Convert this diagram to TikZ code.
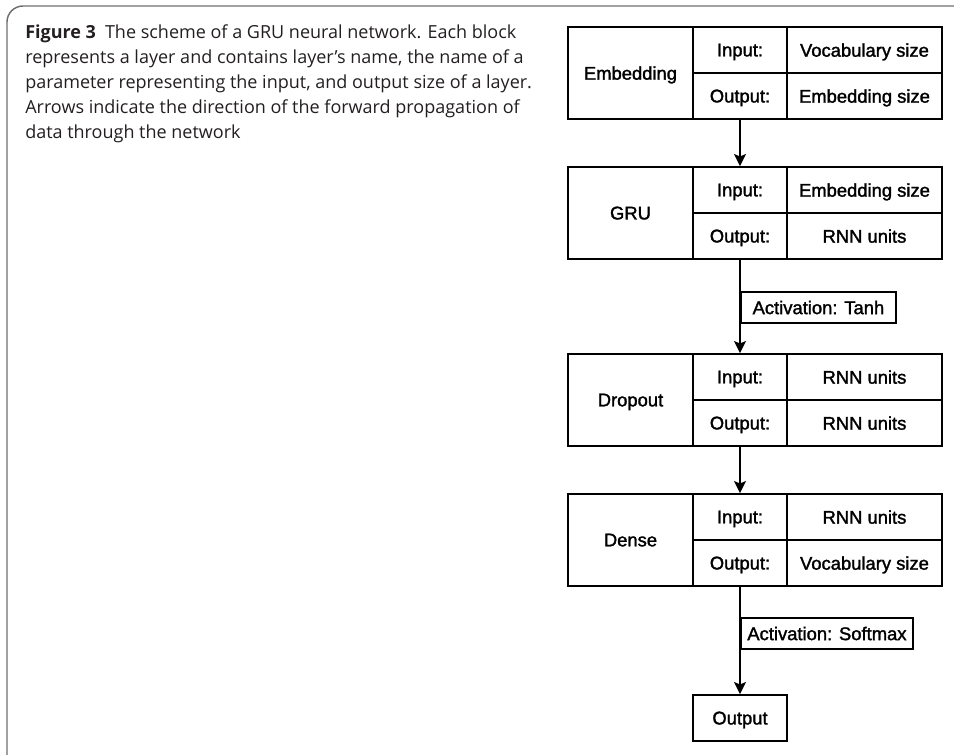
\documentclass[tikz,border=0pt]{standalone}
\usepackage{fontspec}
\setmainfont{Open Sans}
\newfontfamily\dfont[FakeBold=1.6]{Liberation Sans}
\usetikzlibrary{arrows.meta}
\definecolor{framegray}{HTML}{6D6E71}
\definecolor{captext}{HTML}{231F20}
\tikzset{
  cell/.style={draw=black, line width=1.4pt, inner sep=0pt, text depth=0pt, font=\dfont\fontsize{13.8pt}{15pt}\selectfont, text=black},
  namecell/.style={cell, minimum width=93.75pt, minimum height=69pt},
  keycell/.style={cell, minimum width=70.5pt, minimum height=34.5pt},
  valcell/.style={cell, minimum width=116.25pt, minimum height=34.5pt},
  actlabel/.style={cell, anchor=north west, minimum height=23.25pt},
  flow/.style={draw=black, line width=1.4pt, -{Stealth[length=9pt,width=9pt,inset=1.8pt]}},
  capline/.style={anchor=base west, inner sep=0pt, text=captext, font=\fontsize{13.5pt}{15pt}\selectfont}
}
\begin{document}
\begin{tikzpicture}[x=0.75pt,y=-0.75pt]
\useasboundingbox (0,0) rectangle (954,754);
% frame
\draw[framegray, line width=1.1pt, rounded corners=12pt] (7,770) -- (7,6) -- (970,6);
% caption
\node[capline] (c1) at (25,38) {\textbf{Figure 3}\hspace{0.5em}The scheme of a GRU neural network. Each block};
\node[capline] (c2) at (25,63) {represents a layer and contains layer’s name, the name of a};
\node[capline] (c3) at (25,88) {parameter representing the input, and output size of a layer.};
\node[capline] (c4) at (25,113) {Arrows indicate the direction of the forward propagation of};
\node[capline] (c5) at (25,138) {data through the network};
% Embedding
\node[namecell] (embN) at (630.5,73) {Embedding};
\node[keycell] (embI) at (740,50) {Input:};
\node[keycell] (embO) at (740,96) {Output:};
\node[valcell] (embIV) at (864.5,50) {Vocabulary size};
\node[valcell] (embOV) at (864.5,96) {Embedding size};
% GRU
\node[namecell] (gruN) at (630.5,213) {GRU};
\node[keycell] (gruI) at (740,190) {Input:};
\node[keycell] (gruO) at (740,236) {Output:};
\node[valcell] (gruIV) at (864.5,190) {Embedding size};
\node[valcell] (gruOV) at (864.5,236) {RNN units};
% Dropout
\node[namecell] (drpN) at (630.5,400) {Dropout};
\node[keycell] (drpI) at (740,377) {Input:};
\node[keycell] (drpO) at (740,423) {Output:};
\node[valcell] (drpIV) at (864.5,377) {RNN units};
\node[valcell] (drpOV) at (864.5,423) {RNN units};
% Dense
\node[namecell] (dnsN) at (630.5,540) {Dense};
\node[keycell] (dnsI) at (740,517) {Input:};
\node[keycell] (dnsO) at (740,563) {Output:};
\node[valcell] (dnsIV) at (864.5,517) {RNN units};
\node[valcell] (dnsOV) at (864.5,563) {Vocabulary size};
% Output
\node[keycell] (out) at (740,718) {Output};
% activation labels
\node[actlabel, minimum width=116.25pt] (tanh) at (740,291) {Activation: Tanh};
\node[actlabel, minimum width=129pt] (soft) at (740,617) {Activation: Softmax};
% arrows
\draw[flow] (embO.south) -- (gruI.north);
\draw[flow] (gruO.south) -- (drpI.north);
\draw[flow] (drpO.south) -- (dnsI.north);
\draw[flow] (dnsO.south) -- (out.north);
\end{tikzpicture}
\end{document}
